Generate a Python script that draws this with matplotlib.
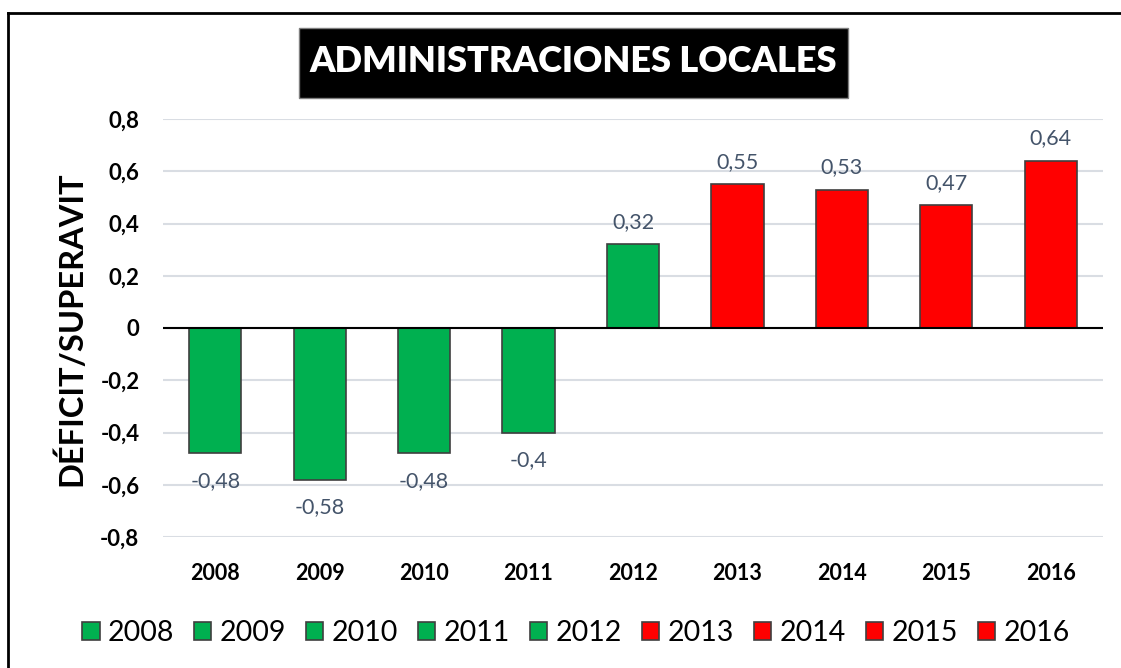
import matplotlib
matplotlib.use("Agg")
import matplotlib.pyplot as plt
from matplotlib.patches import Rectangle
from matplotlib.lines import Line2D

years = ["2008", "2009", "2010", "2011", "2012", "2013", "2014", "2015", "2016"]
values = [-0.48, -0.58, -0.48, -0.4, 0.32, 0.55, 0.53, 0.47, 0.64]
labels = ["-0,48", "-0,58", "-0,48", "-0,4", "0,32", "0,55", "0,53", "0,47", "0,64"]
colors = ["#00B050"] * 5 + ["#FF0000"] * 4
yticks = [-0.8, -0.6, -0.4, -0.2, 0, 0.2, 0.4, 0.6, 0.8]
ytick_labels = ["-0,8", "-0,6", "-0,4", "-0,2", "0", "0,2", "0,4", "0,6", "0,8"]
title = "ADMINISTRACIONES LOCALES"
ylabel = "DÉFICIT/SUPERAVIT"

FONT = ["Lato", "DejaVu Sans"]
plt.rcParams['font.family'] = FONT

W, H = 1121, 668
fig = plt.figure(figsize=(W / 100, H / 100), dpi=100)
ax = fig.add_axes([163 / W, 1 - 537 / H, (1103 - 163) / W, (537 - 119) / H])

x = list(range(len(years)))
for i in x:
    ax.bar(i, values[i], width=0.5, color=colors[i], edgecolor="#3f3f3f",
           linewidth=1.2, label=years[i], zorder=3)
    if values[i] >= 0:
        ax.annotate(labels[i], (i, values[i]), xytext=(0, 9), textcoords="offset points",
                    ha="center", va="bottom", fontsize=15.5, color="#44546A")
    else:
        ax.annotate(labels[i], (i, values[i]), xytext=(0, -13), textcoords="offset points",
                    ha="center", va="top", fontsize=15.5, color="#44546A")

ax.set_xlim(-0.5, len(years) - 0.5)
ax.set_ylim(-0.8, 0.8)
ax.set_yticks(yticks)
ax.set_yticklabels(ytick_labels, fontsize=16, fontweight="bold")
ax.set_xticks(x)
ax.set_xticklabels(years, fontsize=15.5, fontweight="bold")
ax.tick_params(axis="both", length=0)
ax.tick_params(axis="y", pad=17)
ax.tick_params(axis="x", pad=19)
for s in ax.spines.values():
    s.set_visible(False)
ax.grid(axis="y", color="#D9DDE3", linewidth=1.5, zorder=0)
ax.axhline(0, color="black", linewidth=1.5, zorder=4)
ax.set_axisbelow(True)

fig.text(70 / W, 1 - 329 / H, ylabel, rotation=90, ha="center", va="center",
         fontsize=23.5, fontweight="bold")

# title box
fig.patches.append(Rectangle((299 / W, 1 - 98 / H), (848 - 299) / W, 70 / H,
                             transform=fig.transFigure, facecolor="black",
                             edgecolor="#7f7f7f", linewidth=1, zorder=5))
fig.text(573 / W, 1 - 62 / H, title, ha="center", va="center", color="white",
         fontsize=26, fontweight="heavy", zorder=6)

# frame lines
fig.lines.append(Line2D([8 / W, 1], [1 - 13 / H, 1 - 13 / H], transform=fig.transFigure,
                        color="black", linewidth=2))
fig.lines.append(Line2D([8 / W, 8 / W], [0, 1 - 13 / H], transform=fig.transFigure,
                        color="black", linewidth=2))

fig.legend(loc="center", bbox_to_anchor=(576 / W, 1 - 633 / H), ncol=9, frameon=False,
           fontsize=20.5, handlelength=0.6, handleheight=0.6, handletextpad=0.3,
           columnspacing=0.7)

fig.savefig("out.png", dpi=100)
